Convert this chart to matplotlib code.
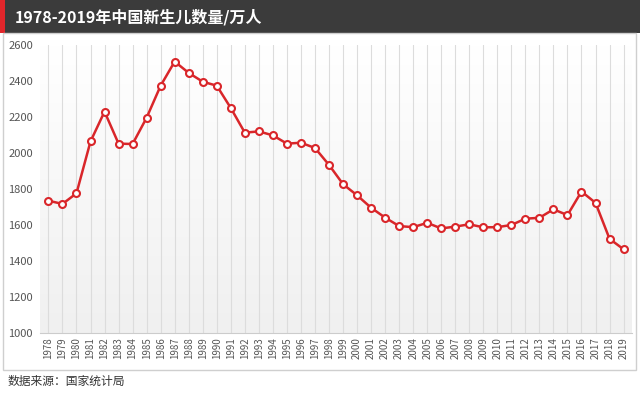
import matplotlib
matplotlib.use("Agg")
import matplotlib.pyplot as plt
import numpy as np
from matplotlib.patches import Rectangle
from matplotlib.colors import LinearSegmentedColormap

plt.rcParams['font.family'] = ['Noto Sans CJK SC', 'DejaVu Sans']

years = list(range(1978, 2020))
births = [1735, 1717, 1776, 2064, 2230, 2052, 2050, 2196, 2374, 2508,
          2445, 2396, 2374, 2250, 2113, 2120, 2098, 2052, 2057, 2028,
          1934, 1827, 1765, 1696, 1641, 1594, 1588, 1612, 1581, 1591,
          1604, 1587, 1588, 1600, 1635, 1640, 1687, 1655, 1786, 1723,
          1523, 1465]
yticks = [1000, 1200, 1400, 1600, 1800, 2000, 2200, 2400, 2600]
title = "1978-2019年中国新生儿数量/万人"
source = "数据来源：国家统计局"

W, H = 640, 394
fig = plt.figure(figsize=(6.4, 3.94), dpi=100)
fig.patch.set_facecolor('white')

def fx(px): return px / W
def fy(py): return 1 - py / H

# title bar
fig.patches.append(Rectangle((0, fy(33)), 1, 33 / H, transform=fig.transFigure,
                             facecolor='#3b3b3b', edgecolor='none', zorder=0))
fig.patches.append(Rectangle((0, fy(33)), fx(5), 33 / H, transform=fig.transFigure,
                             facecolor='#e1262b', edgecolor='none', zorder=1))
fig.text(fx(15), fy(17), title, color='white', fontsize=11.5, fontweight='bold',
         va='center', ha='left')
# outer border
fig.patches.append(Rectangle((fx(3), fy(370)), fx(633), 337 / H, transform=fig.transFigure,
                             facecolor='none', edgecolor='#cfcfcf', lw=1, zorder=1))

ax = fig.add_axes([fx(40), fy(333), fx(592), (333 - 45) / H])
x0, x1 = years[0] - 0.6, years[-1] + 0.6

# gradient background (white at top, light grey at bottom)
grad = np.linspace(0, 1, 256).reshape(-1, 1)
cmap = LinearSegmentedColormap.from_list('g', ['#f0f0f0', '#ffffff'])
ax.imshow(grad, extent=[x0, x1, 1000, 2600], aspect='auto',
          cmap=cmap, zorder=0, origin='lower')
ax.set_xlim(x0, x1)
ax.set_ylim(1000, 2600)

for yr in years:
    ax.axvline(yr, color='#dcdcdc', lw=0.8, zorder=1)

ax.plot(years, births, color='#d9262a', lw=1.8, marker='o', markersize=5,
        markerfacecolor='white', markeredgecolor='#d9262a', markeredgewidth=1.5, zorder=3)

ax.set_xticks(years)
ax.set_xticklabels([str(y) for y in years], rotation=90, fontsize=7, color='#555555')
ax.set_yticks(yticks)
ax.set_yticklabels([str(v) for v in yticks], fontsize=8, color='#555555')
ax.tick_params(axis='x', length=0, pad=3)
ax.tick_params(axis='y', length=0, pad=5)
for s in ['top', 'right', 'left']:
    ax.spines[s].set_visible(False)
ax.spines['bottom'].set_color('#cccccc')

fig.text(fx(8), fy(381), source, fontsize=8.5, color='#333333',
         va='center', ha='left')

fig.savefig('out.png', dpi=100)
